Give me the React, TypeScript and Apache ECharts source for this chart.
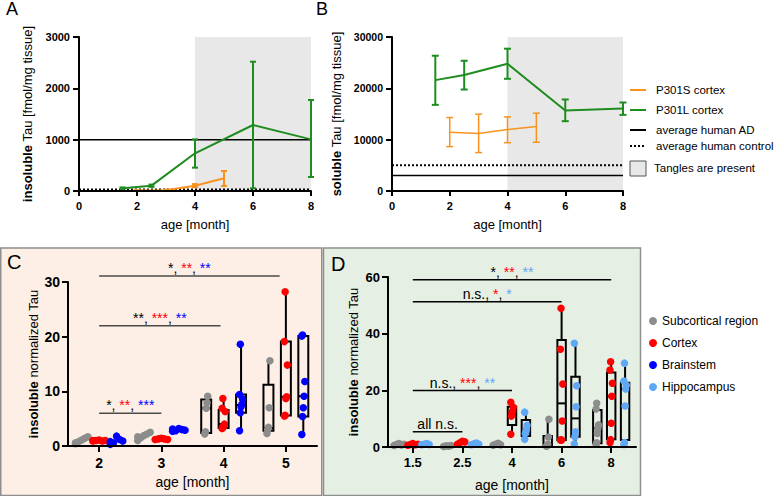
import React, { useEffect, useRef } from "react";
import * as echarts from "echarts";

const FONT = "'Liberation Sans', Arial, Helvetica, sans-serif";

// ---------- Panel A: insoluble Tau [fmol/mg tissue] ----------
const abAgeRange = [0, 8];
const tanglesRange = [4, 8];
const aP301SAge = [2, 3, 4, 5];
const aP301SMean = [8, 15, 104, 247];
const aP301SLow = [0, 5, 75, 97];
const aP301SHigh = [18, 28, 135, 390];
const aP301LAge = [1.5, 2.5, 4, 6, 8];
const aP301LMean = [52, 104, 734, 1286, 1006];
const aP301LLow = [35, 80, 455, 52, 273];
const aP301LHigh = [70, 125, 1006, 2519, 1773];
const aHumanAD = 1000;
const aHumanControl = 30;

// ---------- Panel B: soluble Tau [fmol/mg tissue] ----------
const bP301SAge = [2, 3, 4, 5];
const bP301SMean = [11450, 11190, 11970, 12560];
const bP301SLow = [8650, 7480, 9410, 9500];
const bP301SHigh = [14310, 14960, 14440, 15160];
const bP301LAge = [1.5, 2.5, 4, 6, 8];
const bP301LMean = [21600, 22580, 24790, 15680, 16070];
const bP301LLow = [16780, 19770, 21860, 13600, 14830];
const bP301LHigh = [26350, 25370, 27720, 17830, 17240];
const bHumanAD = 3000;
const bHumanControl = 5000;

const abLegendNames = ["P301S cortex", "P301L cortex", "average human AD", "average human control", "Tangles are present"];

// ---------- Panel C: insoluble normalized Tau (P301S) ----------
const cMonths = ["2", "3", "4", "5"];
const cSubcortical = [[0.4, 0.8, 1.1, 1.4, 1.7, 0.6], [1.0, 1.5, 1.9, 2.2, 2.5, 1.7], [2.2, 2.6, 6.9, 7.9, 9.1], [2.3, 3.0, 3.4, 7.0, 15.6]];
const cCortex = [[0.9, 1.0, 1.1, 0.9, 1.0, 1.0], [1.2, 1.3, 1.4, 1.3, 1.2], [3.2, 3.4, 3.6, 4.0, 6.3, 6.9, 8.7], [5.5, 5.6, 8.7, 9.0, 14.8, 19.1, 28.2]];
const cBrainstem = [[0.3, 0.6, 1.8, 1.2, 0.9, 0.8], [2.7, 2.8, 3.2, 3.0, 2.9, 3.1], [2.8, 6.1, 7.2, 7.6, 8.6, 9.4, 18.6], [2.1, 5.4, 7.0, 9.1, 11.8, 20.1, 20.3]];
// [min, q1, median, q3, max]
const cBoxSubcortical = [null, null, [2.2, 2.4, 6.9, 8.5, 9.1], [2.3, 2.8, 3.3, 11.2, 15.6]];
const cBoxCortex = [null, null, [3.2, 3.3, 4.0, 6.6, 8.7], [5.5, 5.6, 9.0, 19.1, 28.2]];
const cBoxBrainstem = [null, null, [2.8, 6.1, 7.5, 9.4, 18.6], [2.1, 5.4, 9.1, 20.1, 20.3]];
const cSigFrom = [0, 0, 0];
const cSigTo = [1, 1.95, 2.9];
const cSigY = [6.0, 22.0, 31.1];
const cSigSubcortical = ["*", "**", "*"];
const cSigCortex = ["**", "***", "**"];
const cSigBrainstem = ["***", "**", "**"];

// ---------- Panel D: insoluble normalized Tau (P301L) ----------
const dMonths = ["1.5", "2.5", "4", "6", "8"];
const dSubcortical = [[0.5, 0.9, 1.2, 0.7, 1.0], [0.2, 0.4, 0.3, 0.5], [0.6, 1.0, 1.3, 0.8], [0.3, 0.5, 1.0, 3.5, 9.8], [1.0, 1.5, 4.8, 6.6, 7.8, 13.4, 15.4]];
const dCortex = [[0.6, 0.9, 1.2, 0.8, 1.0], [1.0, 1.5, 2.0, 1.8], [4.5, 10.9, 12.2, 12.6, 14.0, 15.8], [2.5, 2.5, 2.5, 9.2, 22.2, 34.5, 49.0], [1.6, 2.6, 8.4, 17.9, 22.5, 27.2, 30.1]];
const dHippocampus = [[0.8, 1.0, 1.2, 0.9], [0.8, 1.1, 1.4, 1.0], [2.7, 4.8, 5.5, 6.3, 7.7, 12.3], [1.1, 3.6, 5.4, 14.2, 21.6, 36.6], [0.9, 1.6, 14.5, 20.5, 21.8, 23.3, 29.6]];
const dBoxSubcortical = [null, null, null, [0.3, 0.3, 1.0, 3.9, 9.8], [1.0, 1.3, 6.6, 13.1, 15.4]];
const dBoxCortex = [null, null, [4.5, 7.8, 12.0, 14.2, 15.8], [2.5, 2.5, 15.4, 37.8, 49.0], [1.6, 2.7, 17.9, 26.3, 30.1]];
const dBoxHippocampus = [null, null, [2.7, 3.9, 5.9, 9.5, 12.3], [1.1, 3.6, 10.1, 24.8, 36.6], [0.9, 2.5, 20.5, 22.7, 29.6]];
const dSigFrom = [0, 0, 0, 0];
const dSigTo = [1, 2, 3, 4];
const dSigY = [5.4, 19.9, 51.3, 59.0];
const dSigSubcortical = ["all n.s.", "n.s.", "n.s.", "*"];
const dSigCortex = ["", "***", "*", "**"];
const dSigHippocampus = ["", "**", "*", "**"];

const regionNames = ["Subcortical region", "Cortex", "Brainstem", "Hippocampus"];

// ---------- colours ----------
const ORANGE = "#f7931e";
const GREEN = "#1e8c1e";
const GRAY = "#8c8c8c";
const RED = "#ff0000";
const BLUE = "#0000ff";
const LIGHTBLUE = "#5fa8f5";

// ---------- helpers ----------
const errorBars = (xs: number[], lo: number[], hi: number[]) => xs.map((x, i) => [x, lo[i], hi[i]]);

const errorBarRender = (color: string, capHalf: number, width: number) => (params: any, api: any) => {
  const x = api.value(0);
  const p1 = api.coord([x, api.value(1)]);
  const p2 = api.coord([x, api.value(2)]);
  const style = { stroke: color, lineWidth: width };
  return {
    type: "group",
    children: [
      { type: "line", shape: { x1: p1[0], y1: p1[1], x2: p2[0], y2: p2[1] }, style },
      { type: "line", shape: { x1: p1[0] - capHalf, y1: p1[1], x2: p1[0] + capHalf, y2: p1[1] }, style },
      { type: "line", shape: { x1: p2[0] - capHalf, y1: p2[1], x2: p2[0] + capHalf, y2: p2[1] }, style },
    ],
  };
};

const shadeRender = (params: any, api: any) => {
  const cs = params.coordSys;
  const a = api.coord([api.value(0), 0]);
  const b = api.coord([api.value(1), 0]);
  return { type: "rect", shape: { x: a[0], y: cs.y, width: b[0] - a[0], height: cs.height }, style: { fill: "#e8e8e8" } };
};

const boxData = (boxes: (number[] | null)[], offset: number) =>
  boxes.map((b, i) => (b ? [i + offset, ...b] : null)).filter((d) => d !== null);

const boxRender = (halfWidthUnits: number) => (params: any, api: any) => {
  const x = api.value(0);
  const pMin = api.coord([x, api.value(1)]);
  const pQ1 = api.coord([x, api.value(2)]);
  const pMed = api.coord([x, api.value(3)]);
  const pQ3 = api.coord([x, api.value(4)]);
  const pMax = api.coord([x, api.value(5)]);
  const hw = api.size([halfWidthUnits, 0])[0];
  const cx = pMin[0];
  const style = { stroke: "#000", lineWidth: 2, fill: "none" };
  return {
    type: "group",
    children: [
      { type: "line", shape: { x1: cx, y1: pMin[1], x2: cx, y2: pQ1[1] }, style },
      { type: "line", shape: { x1: cx, y1: pQ3[1], x2: cx, y2: pMax[1] }, style },
      { type: "rect", shape: { x: cx - hw, y: pQ3[1], width: 2 * hw, height: pQ1[1] - pQ3[1] }, style },
      { type: "line", shape: { x1: cx - hw, y1: pMed[1], x2: cx + hw, y2: pMed[1] }, style },
    ],
  };
};

const points = (groups: number[][], offset: number, boxes: (number[] | null)[]) => {
  const out: number[][] = [];
  groups.forEach((vals, i) => {
    const step = boxes[i] ? 0.012 : 0.05;
    vals.forEach((v, j) => out.push([i + offset + ((j % 5) - 2) * step, v]));
  });
  return out;
};

const sigRender = (lineColor: string, labels: string[], rich: any) => (params: any, api: any) => {
  const y = api.value(2);
  const p1 = api.coord([api.value(0), y]);
  const p2 = api.coord([api.value(1), y]);
  return {
    type: "group",
    children: [
      { type: "line", shape: { x1: p1[0], y1: p1[1], x2: p2[0], y2: p2[1] }, style: { stroke: lineColor, lineWidth: 1.5 } },
      {
        type: "text",
        x: (p1[0] + p2[0]) / 2,
        y: p1[1] - 1,
        style: { text: labels[params.dataIndex], rich, align: "center", verticalAlign: "bottom", font: `14px ${FONT}`, fontFamily: FONT, fontSize: 14, fill: "#000" },
      },
    ],
  };
};

const sigLabel = (a: string, b: string, c: string) => (b === "" ? `{k|${a}}` : `{k|${a}}{k|,} {r|${b}}{k|,} {s|${c}}`);
const richFor = (c3: string) => ({
  k: { fill: "#000", color: "#000", fontSize: 14, fontFamily: FONT },
  r: { fill: RED, color: RED, fontSize: 14, fontFamily: FONT },
  s: { fill: c3, color: c3, fontSize: 14, fontFamily: FONT },
});

const axisStyle = (fontSize: number, margin: number, tickLen: number) => ({
  axisLine: { show: true, onZero: false, lineStyle: { color: "#000", width: 2 } },
  axisTick: { show: true, length: tickLen, lineStyle: { color: "#000", width: 2 } },
  axisLabel: { color: "#000", fontWeight: "bold", fontSize, fontFamily: FONT, margin, formatter: (v: any) => String(v) },
  splitLine: { show: false },
  z: 10,
});

const yName = (bold: string, rest: string, gap: number) => ({
  name: `{b|${bold}} ${rest}`,
  nameLocation: "middle",
  nameGap: gap,
  nameTextStyle: {
    color: "#000",
    fontSize: 13,
    fontFamily: FONT,
    rich: { b: { fontWeight: "bold", fontSize: 13, fontFamily: FONT, color: "#000" } },
  },
});

const xName = (gap: number, size: number) => ({
  name: "age [month]",
  nameLocation: "middle",
  nameGap: gap,
  nameTextStyle: { color: "#000", fontSize: size, fontFamily: FONT },
});

const cOff = [-0.28, 0, 0.28];
const dOff = [-0.28, 0, 0.28];

function buildOption() {
  const series: any[] = [];
  [0, 1].forEach((g) =>
    series.push({ type: "custom", xAxisIndex: g, yAxisIndex: g, z: 1, silent: true, clip: false, data: [tanglesRange], renderItem: shadeRender })
  );
  const refLine = (g: number, v: number, dotted: boolean) => ({
    type: "line", xAxisIndex: g, yAxisIndex: g, z: 2, silent: true, symbol: "none",
    data: [[abAgeRange[0], v], [abAgeRange[1], v]],
    lineStyle: { color: "#000", width: dotted ? 2 : 1.5, type: dotted ? [2, 2] : "solid" },
  });
  series.push(refLine(0, aHumanAD, false), refLine(0, aHumanControl, true), refLine(1, bHumanAD, false), refLine(1, bHumanControl, true));
  const meanLine = (g: number, name: string, xs: number[], ys: number[], color: string, w: number) => ({
    type: "line", name, xAxisIndex: g, yAxisIndex: g, z: 3, silent: true, symbol: "none",
    data: xs.map((x, i) => [x, ys[i]]), lineStyle: { color, width: w }, itemStyle: { color },
  });
  series.push(
    meanLine(0, abLegendNames[0], aP301SAge, aP301SMean, ORANGE, 2),
    meanLine(0, abLegendNames[1], aP301LAge, aP301LMean, GREEN, 2),
    meanLine(1, abLegendNames[0], bP301SAge, bP301SMean, ORANGE, 1.5),
    meanLine(1, abLegendNames[1], bP301LAge, bP301LMean, GREEN, 2)
  );
  const eb = (g: number, d: number[][], color: string, cap: number, w: number) => ({
    type: "custom", xAxisIndex: g, yAxisIndex: g, z: 4, silent: true, clip: false, data: d, renderItem: errorBarRender(color, cap, w),
  });
  series.push(
    eb(0, errorBars(aP301SAge, aP301SLow, aP301SHigh), ORANGE, 3, 2),
    eb(0, errorBars(aP301LAge, aP301LLow, aP301LHigh), GREEN, 3, 2),
    eb(1, errorBars(bP301SAge, bP301SLow, bP301SHigh), ORANGE, 3.5, 1.5),
    eb(1, errorBars(bP301LAge, bP301LLow, bP301LHigh), GREEN, 3.5, 2)
  );

  // C
  const cGroups = [cSubcortical, cCortex, cBrainstem];
  const cBoxes = [cBoxSubcortical, cBoxCortex, cBoxBrainstem];
  const cColors = [GRAY, RED, BLUE];
  cBoxes.forEach((b, k) =>
    series.push({ type: "custom", xAxisIndex: 3, yAxisIndex: 2, z: 3, silent: true, clip: false, data: boxData(b, cOff[k]), renderItem: boxRender(0.08) })
  );
  cGroups.forEach((g, k) =>
    series.push({
      type: "scatter", name: regionNames[k], xAxisIndex: 3, yAxisIndex: 2, z: 4, symbolSize: 7.5, silent: true,
      itemStyle: { color: cColors[k], opacity: 1 }, data: points(g, cOff[k], cBoxes[k]),
    })
  );
  series.push({
    type: "custom", xAxisIndex: 3, yAxisIndex: 2, z: 5, silent: true, clip: false,
    data: cSigY.map((y, i) => [cSigFrom[i], cSigTo[i], y]),
    renderItem: sigRender("#4a4a4a", cSigY.map((_, i) => sigLabel(cSigSubcortical[i], cSigCortex[i], cSigBrainstem[i])), richFor(BLUE)),
  });

  // D
  const dGroups = [dSubcortical, dCortex, dHippocampus];
  const dBoxes = [dBoxSubcortical, dBoxCortex, dBoxHippocampus];
  const dColors = [GRAY, RED, LIGHTBLUE];
  const dNames = [regionNames[0], regionNames[1], regionNames[3]];
  dBoxes.forEach((b, k) =>
    series.push({ type: "custom", xAxisIndex: 5, yAxisIndex: 3, z: 3, silent: true, clip: false, data: boxData(b, dOff[k]), renderItem: boxRender(0.085) })
  );
  dGroups.forEach((g, k) =>
    series.push({
      type: "scatter", name: dNames[k], xAxisIndex: 5, yAxisIndex: 3, z: 4, symbolSize: 7.5, silent: true,
      itemStyle: { color: dColors[k], opacity: 1 }, data: points(g, dOff[k], dBoxes[k]),
    })
  );
  series.push({
    type: "custom", xAxisIndex: 5, yAxisIndex: 3, z: 5, silent: true, clip: false,
    data: dSigY.map((y, i) => [dSigFrom[i], dSigTo[i], y]),
    renderItem: sigRender("#000", dSigY.map((_, i) => sigLabel(dSigSubcortical[i], dSigCortex[i], dSigHippocampus[i])), richFor(LIGHTBLUE)),
  });

  const legendX = 630;
  const legendRowsY = [90, 110, 130, 146];
  const legendColors = [ORANGE, GREEN, "#000", "#000"];
  const graphic: any[] = [
    { type: "rect", z: -10, shape: { x: 0.75, y: 248, width: 321, height: 247.5 }, style: { fill: "#fdefe5", stroke: "#8f8f8f", lineWidth: 1.5 } },
    { type: "rect", z: -10, shape: { x: 323.5, y: 248, width: 317, height: 247.5 }, style: { fill: "#e6efe4", stroke: "#8f8f8f", lineWidth: 1.5 } },
    { type: "text", x: 6, y: 0, style: { text: "A", fontSize: 18, fontFamily: FONT, fill: "#000" } },
    { type: "text", x: 316, y: 0, style: { text: "B", fontSize: 18, fontFamily: FONT, fill: "#000" } },
    { type: "text", x: 7, y: 252, style: { text: "C", fontSize: 20, fontFamily: FONT, fill: "#000" } },
    { type: "text", x: 331, y: 254, style: { text: "D", fontSize: 20, fontFamily: FONT, fill: "#000" } },
  ];
  legendRowsY.forEach((y, i) => {
    graphic.push({
      type: "line", shape: { x1: legendX, y1: y, x2: legendX + 16, y2: y },
      style: { stroke: legendColors[i], lineWidth: 2, lineDash: i === 3 ? [2, 2] : null },
    });
    graphic.push({ type: "text", x: 656, y, style: { text: abLegendNames[i], fontSize: 11.5, fontFamily: FONT, fill: "#000", verticalAlign: "middle" } });
  });
  graphic.push({ type: "rect", shape: { x: legendX, y: 161, width: 16, height: 15 }, style: { fill: "#e8e8e8", stroke: "#555", lineWidth: 1 } });
  graphic.push({ type: "text", x: 654, y: 168, style: { text: abLegendNames[4], fontSize: 11.5, fontFamily: FONT, fill: "#000", verticalAlign: "middle" } });

  return {
    animation: false,
    textStyle: { fontFamily: FONT },
    grid: [
      { left: 79, top: 37, width: 232, height: 154, outerBoundsMode: "none" },
      { left: 392, top: 37, width: 231, height: 154, outerBoundsMode: "none" },
      { left: 68, top: 282, width: 249, height: 164, outerBoundsMode: "none" },
      { left: 388, top: 277, width: 248, height: 170, outerBoundsMode: "none" },
    ],
    xAxis: [
      { gridIndex: 0, type: "value", min: abAgeRange[0], max: abAgeRange[1], interval: 2, ...axisStyle(11, 9, 5), ...xName(27, 13) },
      { gridIndex: 1, type: "value", min: abAgeRange[0], max: abAgeRange[1], interval: 2, ...axisStyle(11, 9, 5), ...xName(27, 13) },
      {
        gridIndex: 2, type: "category", data: cMonths, boundaryGap: true, ...axisStyle(14, 10, 6), ...xName(29, 14),
        axisTick: { show: true, alignWithLabel: true, length: 6, lineStyle: { color: "#000", width: 2 } },
      },
      { gridIndex: 2, type: "value", min: -0.5, max: cMonths.length - 0.5, show: false },
      {
        gridIndex: 3, type: "category", data: dMonths, boundaryGap: true, ...axisStyle(13, 9, 6), ...xName(31, 14),
        axisTick: { show: true, alignWithLabel: true, length: 6, lineStyle: { color: "#000", width: 2 } },
      },
      { gridIndex: 3, type: "value", min: -0.5, max: dMonths.length - 0.5, show: false },
    ],
    yAxis: [
      { gridIndex: 0, type: "value", min: 0, max: 3000, interval: 1000, ...axisStyle(11, 9, 6), ...yName("insoluble", "Tau [fmol/mg tissue]", 45) },
      { gridIndex: 1, type: "value", min: 0, max: 30000, interval: 10000, ...axisStyle(10.5, 9, 6), ...yName("soluble", "Tau [fmol/mg tissue]", 49) },
      { gridIndex: 2, type: "value", min: 0, max: 30, interval: 10, ...axisStyle(14, 8, 6), ...yName("insoluble", "normalized Tau", 28) },
      { gridIndex: 3, type: "value", min: 0, max: 60, interval: 20, ...axisStyle(13, 8, 6), ...yName("insoluble", "normalized Tau", 28) },
    ],
    legend: {
      data: regionNames,
      orient: "vertical",
      left: 644,
      top: 310,
      itemWidth: 8,
      itemHeight: 8,
      itemGap: 10,
      icon: "circle",
      selectedMode: false,
      textStyle: { fontSize: 12, fontFamily: FONT, color: "#000" },
    },
    graphic: { elements: graphic },
    series,
  };
}

export default function App() {
  const ref = useRef<HTMLDivElement>(null);
  useEffect(() => {
    const chart = echarts.init(ref.current!, null, { renderer: "svg" });
    chart.setOption(buildOption() as any);
    return () => chart.dispose();
  }, []);
  return <div ref={ref} style={{ position: "absolute", left: 0, top: 0, width: 778, height: 496 }} />;
}
